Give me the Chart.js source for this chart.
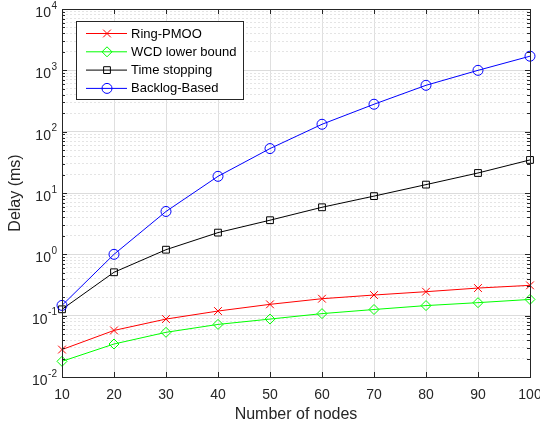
<!DOCTYPE html>
<html>
<head>
<meta charset="utf-8">
<script src="https://cdn.jsdelivr.net/npm/chart.js@4.4.1/dist/chart.umd.min.js"></script>
<style>
  html, body { margin: 0; padding: 0; background: #fff; }
</style>
</head>
<body>
<canvas id="delayChart" width="540" height="427"></canvas>
<script>
// Delay vs number of nodes (log scale), MATLAB-style figure

const nodes = [10, 20, 30, 40, 50, 60, 70, 80, 90, 100];
const ringPmoo = [0.028, 0.0575, 0.088, 0.119, 0.153, 0.189, 0.217, 0.246, 0.282, 0.312];
const wcdLowerBound = [0.018, 0.0345, 0.0535, 0.072, 0.088, 0.108, 0.126, 0.146, 0.163, 0.184];
const timeStopping = [0.127, 0.51, 1.19, 2.26, 3.6, 5.85, 8.9, 13.7, 21.2, 34.6];
const backlogBased = [0.147, 1.0, 5.0, 18.7, 53, 132, 280, 570, 1000, 1700];

const seriesNames = ['Ring-PMOO', 'WCD lower bound', 'Time stopping', 'Backlog-Based'];
const yExponents = [-2, -1, 0, 1, 2, 3, 4];

const FONT = '"Liberation Sans", Arial, Helvetica, sans-serif';
const AXIS_COLOR = '#262626';

// every 1..9 x 10^n for the minor grid
const yTickValues = [];
yExponents.forEach(e => {
  const limit = e === 4 ? 1 : 9;
  for (let k = 1; k <= limit; k++) yTickValues.push(k * Math.pow(10, e));
});

function isDecade(v) {
  const l = Math.log10(v);
  return Math.abs(l - Math.round(l)) < 1e-9;
}

function makeSeries(label, data, color, pointStyle, radius, order) {
  return {
    label: label,
    data: nodes.map((n, i) => ({ x: n, y: data[i] })),
    borderColor: color,
    backgroundColor: 'rgba(0,0,0,0)',
    borderWidth: 1,
    pointStyle: pointStyle,
    pointRadius: radius,
    pointBorderWidth: 1,
    pointBorderColor: color,
    pointBackgroundColor: 'rgba(0,0,0,0)',
    tension: 0,
    clip: false,
    order: order
  };
}

const datasets = [
  makeSeries(seriesNames[0], ringPmoo, '#ff0000', 'crossRot', 5.5, 4),
  makeSeries(seriesNames[1], wcdLowerBound, '#00ff00', 'rectRot', 5, 3),
  makeSeries(seriesNames[2], timeStopping, '#000000', 'rect', 4.8, 2),
  makeSeries(seriesNames[3], backlogBased, '#0000ff', 'circle', 5, 1)
];

// box, inward ticks, superscript y labels and legend
const matlabFrame = {
  id: 'matlabFrame',
  afterDraw(chart) {
    const ctx = chart.ctx;
    const area = chart.chartArea;
    const xs = chart.scales.x;
    const ys = chart.scales.y;
    ctx.save();

    // inward tick marks on all four sides
    ctx.strokeStyle = AXIS_COLOR;
    ctx.lineWidth = 1;
    ctx.beginPath();
    xs.ticks.forEach(t => {
      const px = Math.round(xs.getPixelForValue(t.value)) + 0.5;
      ctx.moveTo(px, area.bottom); ctx.lineTo(px, area.bottom - 5);
      ctx.moveTo(px, area.top); ctx.lineTo(px, area.top + 5);
    });
    ys.ticks.forEach(t => {
      const py = Math.round(ys.getPixelForValue(t.value)) + 0.5;
      const len = isDecade(t.value) ? 5 : 3;
      ctx.moveTo(area.left, py); ctx.lineTo(area.left + len, py);
      ctx.moveTo(area.right, py); ctx.lineTo(area.right - len, py);
    });
    ctx.stroke();

    // axes box
    ctx.strokeRect(Math.round(area.left) + 0.5, Math.round(area.top) + 0.5,
      Math.round(area.right - area.left), Math.round(area.bottom - area.top));

    // y tick labels as 10 with superscript exponent
    ctx.fillStyle = AXIS_COLOR;
    ctx.textBaseline = 'middle';
    yExponents.forEach(e => {
      const py = ys.getPixelForValue(Math.pow(10, e));
      const expText = String(e);
      ctx.font = '10px ' + FONT;
      ctx.textAlign = 'right';
      const expW = ctx.measureText(expText).width;
      const right = area.left - 5;
      ctx.fillText(expText, right, py - 3);
      ctx.font = '14px ' + FONT;
      ctx.fillText('10', right - expW - 0.5, py + 4);
    });

    // legend box
    const lx = 76, ly = 21, lw = 167, lh = 78;
    ctx.fillStyle = '#ffffff';
    ctx.fillRect(lx, ly, lw, lh);
    ctx.strokeStyle = AXIS_COLOR;
    ctx.strokeRect(lx + 0.5, ly + 0.5, lw, lh);
    ctx.font = '13px ' + FONT;
    ctx.textAlign = 'left';
    ctx.textBaseline = 'middle';
    chart.data.datasets.forEach((ds, i) => {
      const y = 33.5 + i * 18.3;
      ctx.strokeStyle = ds.borderColor;
      ctx.lineWidth = 1;
      ctx.beginPath();
      ctx.moveTo(86, y); ctx.lineTo(127, y);
      ctx.stroke();
      ctx.fillStyle = 'rgba(0,0,0,0)';
      Chart.helpers.drawPoint(ctx, {
        pointStyle: ds.pointStyle, radius: ds.pointRadius, rotation: 0, borderWidth: 1
      }, 107, y);
      ctx.fillStyle = '#000000';
      ctx.fillText(ds.label, 131, y + 0.5);
    });

    ctx.restore();
  }
};

new Chart(document.getElementById('delayChart'), {
  type: 'line',
  data: { datasets: datasets },
  options: {
    responsive: false,
    animation: false,
    layout: { padding: { left: 6, right: 0, top: 9, bottom: 1.5 } },
    plugins: {
      legend: { display: false },
      tooltip: { enabled: false }
    },
    scales: {
      x: {
        type: 'linear',
        min: 10,
        max: 100,
        afterFit: scale => {
          scale.paddingLeft = 0;
          scale.paddingRight = 10;
          scale.height = 48.5;
        },
        ticks: {
          stepSize: 10,
          color: AXIS_COLOR,
          font: { family: FONT, size: 14 },
          padding: 9.5,
          maxRotation: 0
        },
        grid: { color: '#dfdfdf', drawTicks: false },
        border: { display: false },
        title: {
          display: true,
          text: 'Number of nodes',
          color: AXIS_COLOR,
          font: { family: FONT, size: 16 },
          padding: { top: 3, bottom: 1 }
        }
      },
      y: {
        type: 'logarithmic',
        min: 0.01,
        max: 10000,
        afterBuildTicks: scale => {
          scale.ticks = yTickValues.map(v => ({ value: v, major: isDecade(v) }));
        },
        ticks: { display: false },
        grid: {
          drawTicks: false,
          color: c => (c.tick && !isDecade(c.tick.value)) ? '#e4e4e4' : '#dcdcdc'
        },
        border: {
          display: false,
          dash: c => (c.tick && !isDecade(c.tick.value)) ? [2, 2] : []
        },
        title: {
          display: true,
          text: 'Delay (ms)',
          color: AXIS_COLOR,
          font: { family: FONT, size: 16 },
          padding: { top: 0.4, bottom: 36.4 }
        }
      }
    }
  },
  plugins: [matlabFrame]
});
</script>
</body>
</html>
